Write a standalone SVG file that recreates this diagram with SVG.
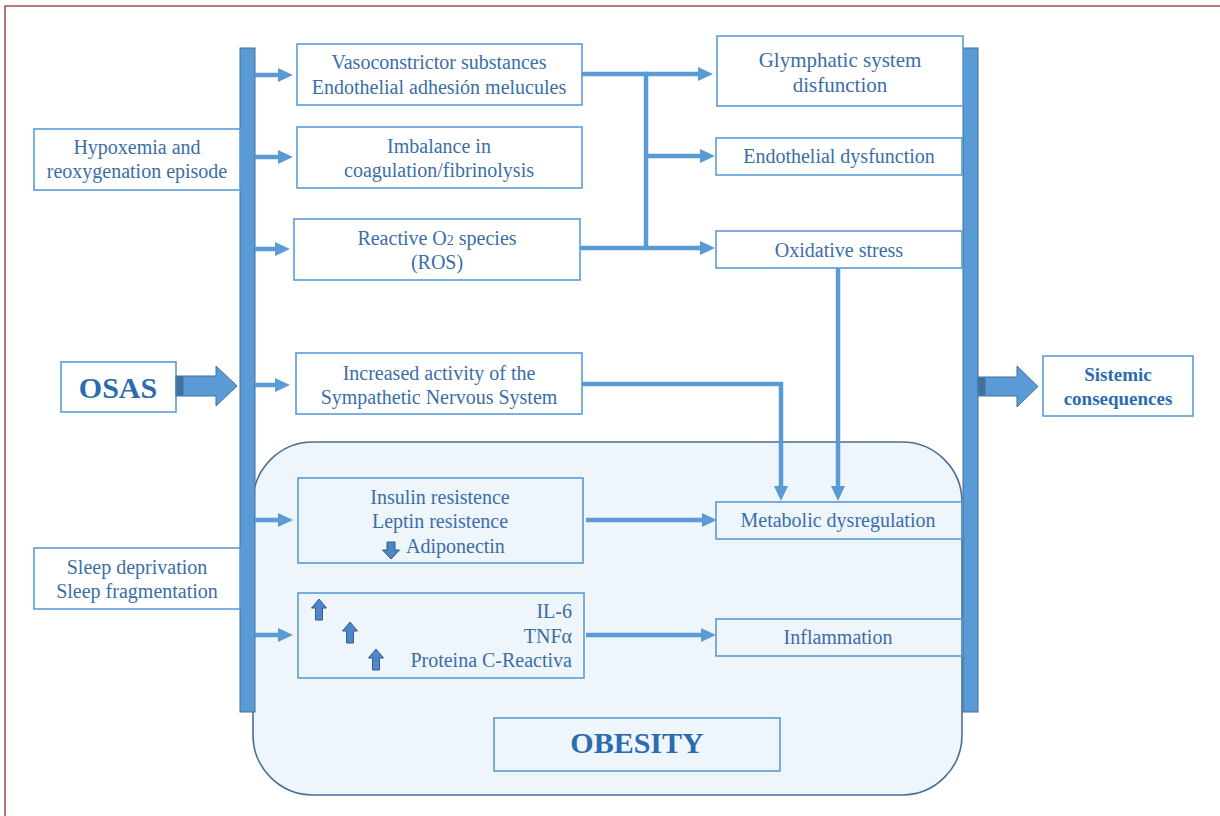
<svg xmlns="http://www.w3.org/2000/svg" width="1220" height="816" viewBox="0 0 1220 816">
<style>
.box{fill:#fff;stroke:#5b9bd5;stroke-width:1.6}
.ibox{fill:none;stroke:#5b9bd5;stroke-width:1.6}
.t{font-family:"Liberation Serif","Times New Roman",serif;font-size:20px;fill:#3a6ea8;text-anchor:middle}
.b{font-weight:bold;fill:#2b6cb0}
.big{font-size:30px}
.c{fill:none;stroke:#5b9bd5;stroke-width:4.5}
.bar{fill:#5b9bd5;stroke:#41719c;stroke-width:1}
.ba{fill:#5b9bd5;stroke:#41719c;stroke-width:1}
.sa{fill:#4f86c6;stroke:#2f5f93;stroke-width:1}
</style>
<defs>
<marker id="ah" markerUnits="userSpaceOnUse" markerWidth="16" markerHeight="14" refX="9" refY="7" orient="auto"><path d="M0,0 L15,7 L0,14 z" fill="#5b9bd5"/></marker>
</defs>
<rect width="1220" height="816" fill="#fff"/>
<path d="M5,816 V6 H1220" fill="none" stroke="#9b5652" stroke-width="1.6"/>

<g id="obesity-container">
<rect x="253" y="442" width="709" height="353" rx="60" fill="#eef5fb" stroke="#4a6f94" stroke-width="1.6"/>
</g>

<g id="left-bar"><rect class="bar" x="240" y="48" width="15" height="664"/></g>
<g id="right-bar"><rect class="bar" x="963" y="48" width="15" height="664"/></g>

<g id="hypoxemia">
<rect class="box" x="34" y="129" width="206" height="61"/>
<text class="t" x="137" y="154">Hypoxemia and</text>
<text class="t" x="137" y="178">reoxygenation episode</text>
</g>
<g id="vasoconstrictor">
<rect class="box" x="297" y="44" width="285" height="61"/>
<text class="t" x="439" y="69">Vasoconstrictor substances</text>
<text class="t" x="439" y="94">Endothelial adhesión melucules</text>
</g>
<g id="imbalance">
<rect class="box" x="297" y="127" width="285" height="61"/>
<text class="t" x="439" y="153">Imbalance in</text>
<text class="t" x="439" y="177">coagulation/fibrinolysis</text>
</g>
<g id="ros">
<rect class="box" x="294" y="219" width="286" height="61"/>
<text class="t" x="437" y="245">Reactive O<tspan style="font-size:14px">2</tspan> species</text>
<text class="t" x="437" y="269">(ROS)</text>
</g>
<g id="sympathetic">
<rect class="box" x="296" y="353" width="286" height="61"/>
<text class="t" x="439" y="380">Increased activity  of the</text>
<text class="t" x="439" y="404">Sympathetic Nervous System</text>
</g>
<g id="osas">
<rect class="box" x="61" y="362" width="115" height="50"/>
<text class="t b big" x="118" y="398">OSAS</text>
</g>
<g id="insulin">
<rect class="ibox" x="298" y="478" width="285" height="85"/>
<text class="t" x="440" y="504">Insulin resistence</text>
<text class="t" x="440" y="528">Leptin resistence</text>
<polygon class="sa" points="387,542 395,542 395,550 399.5,550 391,559 382.5,550 387,550"/>
<text class="t" x="406" y="553" style="text-anchor:start">Adiponectin</text>
</g>
<g id="cytokines">
<rect class="ibox" x="298" y="593" width="286" height="85"/>
<polygon class="sa" points="319,599 326.5,608 322.5,608 322.5,620 315.5,620 315.5,608 311.5,608"/>
<polygon class="sa" points="350,622 357.5,631 353.5,631 353.5,643 346.5,643 346.5,631 342.5,631"/>
<polygon class="sa" points="376,649 383.5,658 379.5,658 379.5,670 372.5,670 372.5,658 368.5,658"/>
<text class="t" x="572" y="618" style="text-anchor:end">IL-6</text>
<text class="t" x="572" y="643" style="text-anchor:end">TNFα</text>
<text class="t" x="572" y="667" style="text-anchor:end">Proteina C-Reactiva</text>
</g>
<g id="sleep">
<rect class="box" x="34" y="548" width="206" height="61"/>
<text class="t" x="137" y="574">Sleep deprivation</text>
<text class="t" x="137" y="598">Sleep fragmentation</text>
</g>
<g id="glymphatic">
<rect class="box" x="717" y="36" width="246" height="70"/>
<text class="t" x="840" y="67" style="font-size:21px">Glymphatic system</text>
<text class="t" x="840" y="92" style="font-size:21px">disfunction</text>
</g>
<g id="endothelial">
<rect class="box" x="716" y="138" width="246" height="37"/>
<text class="t" x="839" y="163">Endothelial dysfunction</text>
</g>
<g id="oxidative">
<rect class="box" x="716" y="231" width="246" height="37"/>
<text class="t" x="839" y="257">Oxidative stress</text>
</g>
<g id="metabolic">
<rect class="ibox" x="716" y="502" width="246" height="37"/>
<text class="t" x="838" y="527">Metabolic dysregulation</text>
</g>
<g id="inflammation">
<rect class="ibox" x="716" y="619" width="246" height="37"/>
<text class="t" x="838" y="644">Inflammation</text>
</g>
<g id="obesity-label">
<rect class="ibox" x="494" y="718" width="286" height="53"/>
<text class="t b big" x="637" y="753">OBESITY</text>
</g>
<g id="sistemic">
<rect class="box" x="1043" y="356" width="150" height="60"/>
<text class="t b" x="1118" y="381" style="font-size:19px">Sistemic</text>
<text class="t b" x="1118" y="405" style="font-size:19px">consequences</text>
</g>

<g id="connectors">
<path class="c" d="M255,75 H287" marker-end="url(#ah)"/>
<path class="c" d="M255,157 H287" marker-end="url(#ah)"/>
<path class="c" d="M255,249 H284" marker-end="url(#ah)"/>
<path class="c" d="M255,385 H284" marker-end="url(#ah)"/>
<path class="c" d="M255,520 H287" marker-end="url(#ah)"/>
<path class="c" d="M255,635 H287" marker-end="url(#ah)"/>
<path class="c" d="M582,74 H646 V248"/>
<path class="c" d="M644,74 H707" marker-end="url(#ah)"/>
<path class="c" d="M646,156 H709" marker-end="url(#ah)"/>
<path class="c" d="M580,248 H709" marker-end="url(#ah)"/>
<path class="c" d="M838,268 V495" marker-end="url(#ah)"/>
<path class="c" d="M582,384 H781 V495" marker-end="url(#ah)"/>
<path class="c" d="M586,520 H711" marker-end="url(#ah)"/>
<path class="c" d="M586,635 H710" marker-end="url(#ah)"/>
<polygon class="ba" points="176,376 216,376 216,366 237,386 216,406 216,396 176,396"/>
<rect x="176.5" y="376.5" width="7" height="19" fill="#41719c"/>
<polygon class="ba" points="978,377 1017,377 1017,366 1038,386.5 1017,407 1017,396 978,396"/>
<rect x="978.5" y="377.5" width="7" height="18" fill="#41719c"/>
</g>
</svg>
